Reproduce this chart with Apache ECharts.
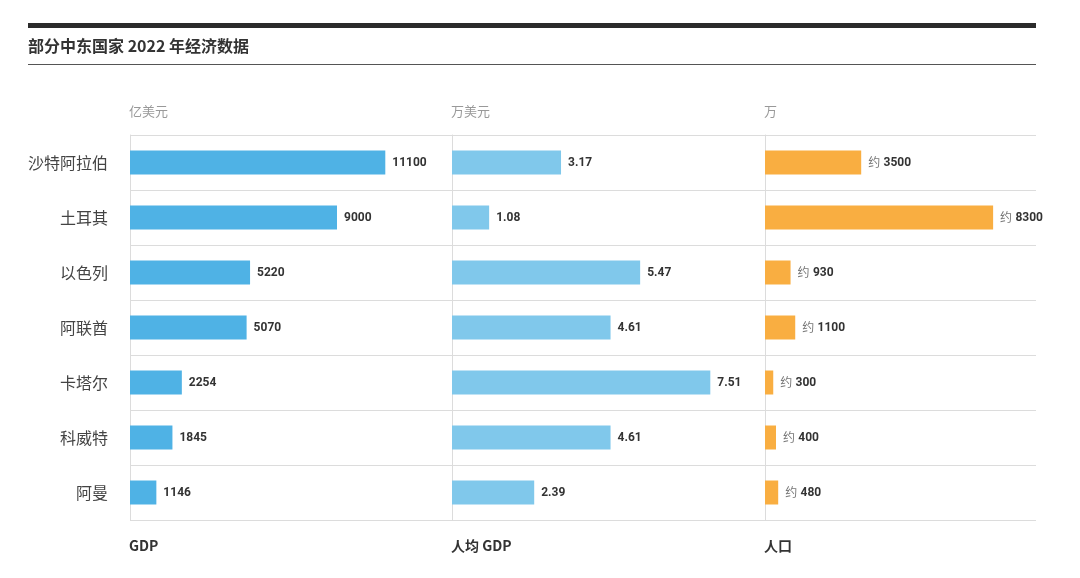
<!DOCTYPE html>
<html><head><meta charset="utf-8">
<script src="https://cdn.jsdelivr.net/npm/echarts@6/dist/echarts.min.js"></script>
<style>html,body{margin:0;padding:0;background:#fff}#c{width:1080px;height:578px}</style>
</head><body><div id="c"></div>
<script>
const countries = ['沙特阿拉伯','土耳其','以色列','阿联酋','卡塔尔','科威特','阿曼'];
const gdp = [11100, 9000, 5220, 5070, 2254, 1845, 1146];
const gdpPerCapita = [3.17, 1.08, 5.47, 4.61, 7.51, 4.61, 2.39];
const population = [3500, 8300, 930, 1100, 300, 400, 480];
const panelTitles = ['GDP', '人均 GDP', '人口'];
const panelUnits = ['亿美元', '万美元', '万'];

const CJK = '"Noto Sans CJK SC", "Noto Sans", sans-serif';
const NUM = 'Roboto, "Noto Sans", sans-serif';
const lineColor = '#dcdcdc';

const grids = [
  {left: 130, width: 322, top: 135, height: 385},
  {left: 452, width: 313, top: 135, height: 385},
  {left: 765, width: 271, top: 135, height: 385}
];
const maxes = [14000, 9.1, 9860];
const colors = ['#4fb2e5', '#80c8eb', '#f9ae41'];
const datas = [gdp, gdpPerCapita, population];

const xAxis = grids.map((g, i) => ({
  type: 'value', gridIndex: i, min: 0, max: maxes[i],
  axisLine: {show: false}, axisTick: {show: false}, axisLabel: {show: false}, splitLine: {show: false}
}));
const yAxis = grids.map((g, i) => ({
  type: 'category', gridIndex: i, data: countries, inverse: true,
  axisLine: {show: true, lineStyle: {color: lineColor, width: 1}},
  axisTick: {show: false},
  axisLabel: {show: i === 0, fontFamily: CJK, fontSize: 16, color: '#444', margin: 22},
  splitLine: {show: true, lineStyle: {color: lineColor, width: 1}}
}));
const series = datas.map((d, i) => ({
  type: 'bar', xAxisIndex: i, yAxisIndex: i, data: d, barWidth: 24,
  itemStyle: {color: colors[i]},
  animation: false,
  label: {
    show: true, position: 'right', distance: 7,
    formatter: i === 2 ? (p => '{a|约} {b|' + p.value + '}') : (p => '{b|' + p.value + '}'),
    rich: {
      a: {fontFamily: CJK, fontSize: 12, color: '#777'},
      b: {fontFamily: NUM, fontWeight: 'bold', fontSize: 12, color: '#333'}
    }
  }
}));

const titles = [{
  text: '部分中东国家 2022 年经济数据', left: 23, top: 33,
  textStyle: {fontFamily: CJK, fontSize: 16, fontWeight: 'bold', color: '#333'}
}];
grids.forEach((g, i) => {
  titles.push({text: panelUnits[i], left: g.left - 6, top: 100,
    textStyle: {fontFamily: CJK, fontSize: 13, fontWeight: 'normal', color: '#999'}});
  titles.push({text: panelTitles[i], left: g.left - 6, top: 534,
    textStyle: {fontFamily: CJK, fontSize: 14, fontWeight: 'bold', color: '#333'}});
});

const chart = echarts.init(document.getElementById('c'));
chart.setOption({
  backgroundColor: '#fff',
  animation: false,
  title: titles,
  grid: grids,
  xAxis, yAxis, series,
  graphic: [
    {type: 'rect', shape: {x: 28, y: 23, width: 1008, height: 5}, style: {fill: '#2b2b2b'}},
    {type: 'line', shape: {x1: 28, y1: 64.5, x2: 1036, y2: 64.5}, style: {stroke: '#555', lineWidth: 1}}
  ]
});
</script></body></html>
